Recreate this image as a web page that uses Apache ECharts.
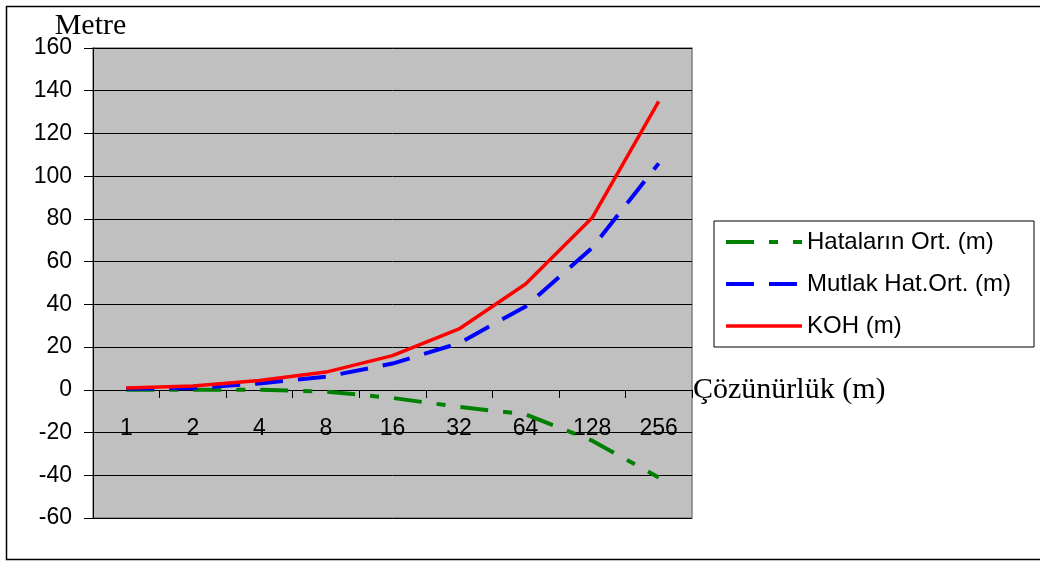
<!DOCTYPE html>
<html>
<head>
<meta charset="utf-8">
<script src="https://cdn.jsdelivr.net/npm/echarts@6/dist/echarts.min.js"></script>
<style>
html,body{margin:0;padding:0;background:#fff;}
#chart{width:1040px;height:561px;}
</style>
</head>
<body>
<div id="chart"></div>
<script>
var categories = ['1', '2', '4', '8', '16', '32', '64', '128', '256'];
var hatalarinOrt = [0, 0, 0, -0.8, -3.8, -8, -11.5, -23.8, -41];
var mutlakHatOrt = [0.5, 0.8, 3, 6.1, 12.3, 21.8, 39, 66.5, 106];
var koh = [0.9, 1.8, 4.4, 8.3, 16, 28.5, 49.5, 80.5, 135];
var seriesNames = ['Hataların Ort. (m)', 'Mutlak Hat.Ort. (m)', 'KOH (m)'];

var sans = 'Liberation Sans, Arial, sans-serif';
var serif = 'Liberation Serif, Times New Roman, serif';

var greenDash = [28, 15, 9, 15];
var blueDash = [28, 15];

var chart = echarts.init(document.getElementById('chart'));
chart.setOption({
  animation: false,
  backgroundColor: '#ffffff',
  graphic: [{
    type: 'rect',
    shape: {x: 6.5, y: 6.5, width: 1040, height: 553},
    style: {fill: 'none', stroke: '#000', lineWidth: 1.5},
    silent: true
  }],
  grid: {
    left: 93, top: 48, width: 599, height: 470,
    show: true, backgroundColor: '#c0c0c0', borderColor: '#808080', borderWidth: 1.5
  },
  legend: {
    orient: 'vertical',
    left: 714, top: 221,
    padding: [9, 23, 9, 10],
    itemGap: 18,
    itemWidth: 76, itemHeight: 24,
    backgroundColor: '#fff',
    borderColor: '#000', borderWidth: 1,
    itemStyle: {opacity: 0},
    textStyle: {fontFamily: sans, fontSize: 24, color: '#000', lineHeight: 24},
    data: [
      {name: seriesNames[0], lineStyle: {color: '#008000', width: 4, type: greenDash, cap: 'butt'}},
      {name: seriesNames[1], lineStyle: {color: '#0000ff', width: 4, type: blueDash, cap: 'butt'}},
      {name: seriesNames[2], lineStyle: {color: '#ff0000', width: 3.5, type: 'solid'}}
    ]
  },
  xAxis: {
    type: 'category',
    data: categories,
    boundaryGap: true,
    offset: -128,
    name: 'Çözünürlük (m)',
    nameLocation: 'end',
    nameGap: 1,
    nameMoveOverlap: false,
    nameTextStyle: {fontFamily: serif, fontSize: 30, color: '#000', align: 'left', verticalAlign: 'middle'},
    axisLine: {onZero: false, lineStyle: {color: '#000', width: 1}},
    axisTick: {show: true, length: 8, lineStyle: {color: '#000'}},
    axisLabel: {fontFamily: sans, fontSize: 23, color: '#000', margin: 27},
    splitLine: {show: false}
  },
  yAxis: {
    type: 'value',
    min: -60, max: 160, interval: 20,
    name: 'Metre',
    nameLocation: 'end',
    nameGap: 22,
    nameMoveOverlap: false,
    nameTextStyle: {fontFamily: serif, fontSize: 30, color: '#000', verticalAlign: 'middle', padding: [0, 0, 0, -5]},
    axisLine: {show: true, lineStyle: {color: '#000', width: 1}},
    axisTick: {show: true, length: 9, lineStyle: {color: '#000'}},
    axisLabel: {fontFamily: sans, fontSize: 23, color: '#000', margin: 21},
    splitLine: {show: true, lineStyle: {color: '#000', width: 1}}
  },
  series: [{
    name: seriesNames[0], type: 'line', data: hatalarinOrt,
    symbol: 'none', color: '#008000',
    lineStyle: {color: '#008000', width: 4, type: greenDash, cap: 'butt'}
  }, {
    name: seriesNames[1], type: 'line', data: mutlakHatOrt,
    symbol: 'none', color: '#0000ff',
    lineStyle: {color: '#0000ff', width: 4, type: blueDash, cap: 'butt'}
  }, {
    name: seriesNames[2], type: 'line', data: koh,
    symbol: 'none', color: '#ff0000',
    lineStyle: {color: '#ff0000', width: 3.5, type: 'solid'}
  }]
});
</script>
</body>
</html>
